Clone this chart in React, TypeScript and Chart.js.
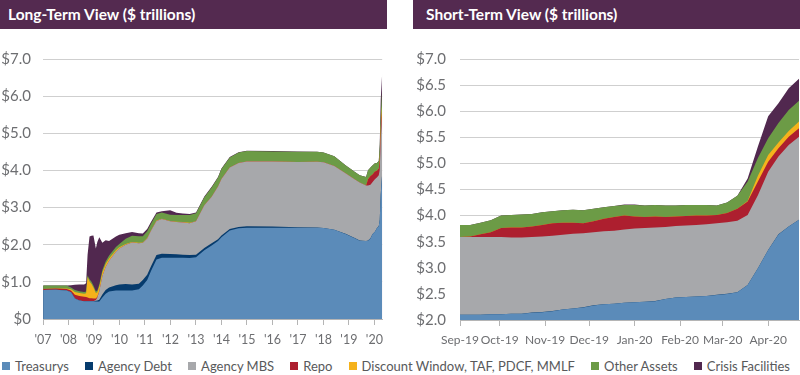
import React, { useEffect, useRef } from 'react';
import { Chart, registerables } from 'chart.js';
Chart.register(...registerables);

Chart.defaults.font.family = "Lato, 'Open Sans', sans-serif";

const SERIES = ['Treasurys', 'Agency Debt', 'Agency MBS', 'Repo', 'Discount Window, TAF, PDCF, MMLF', 'Other Assets', 'Crisis Facilities'];
const COLORS = ['#5b8bb9', '#063b6d', '#a7a8ab', '#ad1f2f', '#f5b21b', '#6c9b46', '#51284f'];

// ---------- Long-term view ($ trillions) ----------
const LT_DATES = [
  '2007-01-03', '2007-07-04', '2007-12-05', '2008-02-06', '2008-04-02', '2008-06-04', '2008-08-13', '2008-09-10',
  '2008-10-01', '2008-10-29', '2008-11-26', '2008-12-24', '2009-01-28', '2009-02-18', '2009-03-18', '2009-05-01',
  '2009-06-17', '2009-08-05', '2009-11-11', '2009-12-30', '2010-03-31', '2010-06-30', '2010-10-06', '2010-12-01',
  '2011-02-02', '2011-03-30', '2011-06-15', '2011-08-31', '2011-12-28', '2012-03-28', '2012-06-27', '2012-10-03',
  '2013-01-02', '2013-05-01', '2013-08-14', '2013-11-13', '2014-01-01', '2014-04-30', '2014-09-03', '2014-12-31',
  '2015-12-30', '2016-12-28', '2017-10-04', '2018-01-03', '2018-06-06', '2018-11-14', '2019-04-03', '2019-06-05',
  '2019-09-04', '2019-10-02', '2019-11-06', '2019-12-04', '2020-01-08', '2020-02-05', '2020-03-04', '2020-03-18',
  '2020-04-01', '2020-04-22',
];
const LT_TREASURYS = [
  0.78, 0.79, 0.77, 0.72, 0.55, 0.50, 0.48, 0.48,
  0.48, 0.48, 0.48, 0.48, 0.47, 0.47, 0.47, 0.58,
  0.68, 0.74, 0.77, 0.77, 0.77, 0.77, 0.80, 0.90,
  1.05, 1.30, 1.60, 1.65, 1.65, 1.65, 1.65, 1.64,
  1.66, 1.85, 1.98, 2.10, 2.20, 2.38, 2.44, 2.46,
  2.46, 2.46, 2.46, 2.45, 2.40, 2.29, 2.17, 2.11,
  2.10, 2.11, 2.17, 2.28, 2.35, 2.44, 2.50, 2.67,
  3.34, 3.92,
];
const LT_AGENCY_DEBT = [
  0, 0, 0, 0, 0, 0, 0, 0,
  0, 0, 0, 0, 0.02, 0.03, 0.05, 0.08,
  0.10, 0.11, 0.14, 0.16, 0.17, 0.16, 0.15, 0.15,
  0.14, 0.13, 0.12, 0.11, 0.10, 0.09, 0.08, 0.08,
  0.07, 0.06, 0.06, 0.05, 0.05, 0.04, 0.04, 0.04,
  0.03, 0.01, 0.002, 0.002, 0.002, 0.002, 0.002, 0.002,
  0.002, 0.002, 0.002, 0.002, 0.002, 0.002, 0.002, 0.002,
  0.002, 0.002,
];
const LT_AGENCY_MBS = [
  0, 0, 0, 0, 0, 0, 0, 0,
  0, 0, 0, 0, 0.02, 0.08, 0.23, 0.49,
  0.62, 0.72, 0.90, 0.97, 1.06, 1.13, 1.09, 1.00,
  0.98, 0.95, 0.92, 0.93, 0.88, 0.87, 0.87, 0.86,
  0.90, 1.15, 1.25, 1.42, 1.52, 1.66, 1.72, 1.74,
  1.75, 1.76, 1.77, 1.77, 1.72, 1.63, 1.58, 1.56,
  1.49, 1.48, 1.44, 1.40, 1.41, 1.37, 1.37, 1.34,
  1.50, 1.59,
];
const LT_REPO = [
  0.03, 0.03, 0.04, 0.05, 0.10, 0.12, 0.12, 0.11,
  0.10, 0.08, 0.08, 0.07, 0.04, 0.02, 0, 0,
  0, 0, 0, 0, 0, 0, 0, 0,
  0, 0, 0, 0, 0, 0, 0, 0,
  0, 0, 0, 0, 0, 0, 0, 0,
  0, 0, 0, 0, 0, 0, 0, 0,
  0, 0.17, 0.24, 0.21, 0.21, 0.18, 0.18, 0.26,
  0.19, 0.16,
];
const LT_DISCOUNT = [
  0, 0, 0.01, 0.03, 0.08, 0.08, 0.08, 0.10,
  0.55, 0.45, 0.38, 0.30, 0.15, 0.12, 0.12, 0.10,
  0.08, 0.06, 0.04, 0.03, 0.02, 0.01, 0.01, 0.01,
  0.01, 0.01, 0.01, 0.01, 0.01, 0.01, 0.01, 0.01,
  0, 0, 0, 0, 0, 0, 0, 0,
  0, 0, 0, 0, 0, 0, 0, 0,
  0, 0, 0, 0, 0, 0, 0, 0.01,
  0.13, 0.13,
];
const LT_OTHER = [
  0.09, 0.08, 0.08, 0.05, 0.05, 0.05, 0.05, 0.05,
  0.05, 0.06, 0.06, 0.05, 0.05, 0.05, 0.06, 0.07,
  0.07, 0.08, 0.09, 0.09, 0.14, 0.17, 0.18, 0.17,
  0.18, 0.18, 0.18, 0.17, 0.17, 0.18, 0.19, 0.21,
  0.22, 0.22, 0.25, 0.24, 0.27, 0.27, 0.28, 0.28,
  0.27, 0.27, 0.27, 0.26, 0.26, 0.22, 0.20, 0.20,
  0.23, 0.24, 0.23, 0.24, 0.22, 0.21, 0.20, 0.37,
  0.32, 0.40,
];
const LT_CRISIS = [
  0, 0, 0, 0.06, 0.14, 0.18, 0.20, 0.22,
  0.55, 1.15, 1.24, 1.35, 1.15, 1.30, 1.27, 0.73,
  0.57, 0.39, 0.28, 0.25, 0.15, 0.10, 0.08, 0.07,
  0.06, 0.05, 0.04, 0.03, 0.12, 0.06, 0.04, 0.03,
  0.02, 0.02, 0.02, 0.01, 0.01, 0.01, 0.01, 0.01,
  0.01, 0.01, 0, 0, 0, 0, 0, 0,
  0, 0, 0, 0, 0, 0, 0, 0.06,
  0.42, 0.42,
];
const LT_TICK_YEARS = [2007, 2008, 2009, 2010, 2011, 2012, 2013, 2014, 2015, 2016, 2017, 2018, 2019, 2020];
const LT_TICK_LABELS = ["'07", "'08", "'09", "'10", "'11", "'12", "'13", "'14", "'15", "'16", "'17", "'18", "'19", "'20"];
const LT_Y_TICKS = [0, 1, 2, 3, 4, 5, 6, 7];

// ---------- Short-term view ($ trillions) ----------
const ST_DATES = [
  '2019-09-04', '2019-09-11', '2019-09-18', '2019-09-25', '2019-10-02', '2019-10-09', '2019-10-16', '2019-10-23',
  '2019-10-30', '2019-11-06', '2019-11-13', '2019-11-20', '2019-11-27', '2019-12-04', '2019-12-11', '2019-12-18',
  '2019-12-25', '2020-01-01', '2020-01-08', '2020-01-15', '2020-01-22', '2020-01-29', '2020-02-05', '2020-02-12',
  '2020-02-19', '2020-02-26', '2020-03-04', '2020-03-11', '2020-03-18', '2020-03-25', '2020-04-01', '2020-04-08',
  '2020-04-15', '2020-04-22',
];
const ST_TREASURYS = [
  2.10, 2.10, 2.10, 2.11, 2.11, 2.12, 2.12, 2.14,
  2.15, 2.17, 2.20, 2.22, 2.24, 2.28, 2.30, 2.31,
  2.33, 2.34, 2.35, 2.36, 2.40, 2.43, 2.44, 2.45,
  2.46, 2.48, 2.50, 2.53, 2.67, 2.99, 3.34, 3.64,
  3.79, 3.92,
];
const ST_AGENCY_DEBT = [
  0.002, 0.002, 0.002, 0.002, 0.002, 0.002, 0.002, 0.002,
  0.002, 0.002, 0.002, 0.002, 0.002, 0.002, 0.002, 0.002,
  0.002, 0.002, 0.002, 0.002, 0.002, 0.002, 0.002, 0.002,
  0.002, 0.002, 0.002, 0.002, 0.002, 0.002, 0.002, 0.002,
  0.002, 0.002,
];
const ST_AGENCY_MBS = [
  1.49, 1.49, 1.49, 1.48, 1.48, 1.46, 1.46, 1.45,
  1.45, 1.44, 1.43, 1.43, 1.42, 1.40, 1.40, 1.40,
  1.40, 1.41, 1.41, 1.41, 1.38, 1.37, 1.37, 1.37,
  1.37, 1.37, 1.37, 1.37, 1.34, 1.40, 1.50, 1.49,
  1.56, 1.59,
];
const ST_REPO = [
  0, 0.01, 0.05, 0.09, 0.17, 0.19, 0.19, 0.20,
  0.22, 0.24, 0.23, 0.21, 0.19, 0.21, 0.24, 0.26,
  0.27, 0.23, 0.21, 0.21, 0.19, 0.18, 0.18, 0.18,
  0.17, 0.16, 0.18, 0.23, 0.26, 0.26, 0.19, 0.16,
  0.16, 0.16,
];
const ST_DISCOUNT = [
  0, 0, 0, 0, 0, 0, 0, 0,
  0, 0, 0, 0, 0, 0, 0, 0,
  0, 0, 0, 0, 0, 0, 0, 0,
  0, 0, 0, 0, 0.01, 0.11, 0.13, 0.11,
  0.11, 0.13,
];
const ST_OTHER = [
  0.23, 0.22, 0.22, 0.23, 0.24, 0.24, 0.25, 0.24,
  0.24, 0.23, 0.24, 0.25, 0.25, 0.24, 0.22, 0.21,
  0.20, 0.22, 0.22, 0.22, 0.22, 0.21, 0.21, 0.20,
  0.20, 0.18, 0.20, 0.25, 0.37, 0.34, 0.32, 0.37,
  0.40, 0.40,
];
const ST_CRISIS = [
  0, 0, 0, 0, 0, 0, 0, 0,
  0, 0, 0, 0, 0, 0, 0, 0,
  0.01, 0.01, 0, 0, 0, 0, 0, 0,
  0, 0, 0, 0, 0.06, 0.22, 0.42, 0.38,
  0.42, 0.42,
];
const ST_TICK_DATES = ['2019-09-04', '2019-10-01', '2019-11-01', '2019-12-01', '2020-01-01', '2020-02-01', '2020-03-01', '2020-04-01'];
const ST_TICK_LABELS = ['Sep-19', 'Oct-19', 'Nov-19', 'Dec-19', 'Jan-20', 'Feb-20', 'Mar-20', 'Apr-20'];
const ST_Y_TICKS = [2.0, 2.5, 3.0, 3.5, 4.0, 4.5, 5.0, 5.5, 6.0, 6.5, 7.0];

// ---------- helpers ----------
function toUTC(s: string) {
  return new Date(s + 'T00:00:00Z').getTime();
}
function decYear(s: string) {
  const t = toUTC(s);
  const y = new Date(t).getUTCFullYear();
  const a = Date.UTC(y, 0, 1);
  const b = Date.UTC(y + 1, 0, 1);
  return y + (t - a) / (b - a);
}
const ST_ORIGIN = Date.UTC(2019, 8, 1);
function dayNum(s: string) {
  return (toUTC(s) - ST_ORIGIN) / 86400000;
}
function cumulative(series: number[][]) {
  const out: number[][] = [];
  let run = series[0].map(() => 0);
  series.forEach((s) => {
    run = run.map((v, i) => v + s[i]);
    out.push(run.slice());
  });
  return out;
}

const AXIS_GRAY = '#b5b5b5';
const LABEL_GRAY = '#6d6e71';

interface Cfg {
  xs: number[];
  series: number[][];
  xMin: number;
  xMax: number;
  xTicks: number[];
  xLabels: string[];
  yMin: number;
  yMax: number;
  yTicks: number[];
  yLabel: (v: number) => string;
  yWidth: number;
  xHeight: number;
  padRight: number;
  yPad: number;
  xFont: number;
}

function buildConfig(c: Cfg): any {
  const cum = cumulative(c.series);
  return {
    type: 'line',
    data: {
      datasets: cum.map((vals, k) => ({
        label: SERIES[k],
        data: vals.map((v, i) => ({ x: c.xs[i], y: v })),
        backgroundColor: COLORS[k],
        borderColor: COLORS[k],
        borderWidth: 0,
        pointRadius: 0,
        pointHoverRadius: 0,
        fill: 'start',
        tension: 0,
      })),
    },
    options: {
      animation: false,
      responsive: false,
      maintainAspectRatio: false,
      events: [],
      layout: { padding: { top: 29, right: c.padRight, left: 0, bottom: 0 } },
      plugins: { legend: { display: false }, tooltip: { enabled: false } },
      scales: {
        x: {
          type: 'linear',
          min: c.xMin,
          max: c.xMax,
          afterBuildTicks: (s: any) => {
            s.ticks = c.xTicks.map((v) => ({ value: v }));
          },
          afterFit: (s: any) => {
            s.height = c.xHeight;
          },
          grid: { drawOnChartArea: false, drawTicks: true, tickLength: 6, color: AXIS_GRAY },
          border: { display: true, color: AXIS_GRAY },
          ticks: {
            autoSkip: false,
            maxRotation: 0,
            padding: 7,
            color: LABEL_GRAY,
            font: { size: c.xFont },
            callback: (_v: any, i: number) => c.xLabels[i],
          },
        },
        y: {
          min: c.yMin,
          max: c.yMax,
          afterBuildTicks: (s: any) => {
            s.ticks = c.yTicks.map((v) => ({ value: v }));
          },
          afterFit: (s: any) => {
            s.width = c.yWidth;
          },
          grid: { color: '#cfcfcf', drawTicks: false, lineWidth: 1 },
          border: { display: false },
          ticks: {
            autoSkip: false,
            padding: c.yPad,
            color: LABEL_GRAY,
            font: { size: 15 },
            callback: (v: any) => c.yLabel(Number(v)),
          },
        },
      },
    },
  };
}

function ChartCanvas({ make, width, height }: { make: () => any; width: number; height: number }) {
  const ref = useRef<HTMLCanvasElement | null>(null);
  useEffect(() => {
    if (!ref.current) return;
    const chart = new Chart(ref.current, make());
    return () => chart.destroy();
  }, []);
  return <canvas ref={ref} width={width} height={height} style={{ width, height, display: 'block' }} />;
}

const makeLong = () =>
  buildConfig({
    xs: LT_DATES.map(decYear),
    series: [LT_TREASURYS, LT_AGENCY_DEBT, LT_AGENCY_MBS, LT_REPO, LT_DISCOUNT, LT_OTHER, LT_CRISIS],
    xMin: LT_TICK_YEARS[0],
    xMax: decYear(LT_DATES[LT_DATES.length - 1]),
    xTicks: LT_TICK_YEARS,
    xLabels: LT_TICK_LABELS,
    yMin: LT_Y_TICKS[0],
    yMax: LT_Y_TICKS[LT_Y_TICKS.length - 1],
    yTicks: LT_Y_TICKS,
    yLabel: (v) => (v === 0 ? '$0' : '$' + v.toFixed(1)),
    yWidth: 43,
    xHeight: 31,
    padRight: 4,
    yPad: 12,
    xFont: 12.5,
  });

const makeShort = () =>
  buildConfig({
    xs: ST_DATES.map(dayNum),
    series: [ST_TREASURYS, ST_AGENCY_DEBT, ST_AGENCY_MBS, ST_REPO, ST_DISCOUNT, ST_OTHER, ST_CRISIS],
    xMin: dayNum(ST_DATES[0]),
    xMax: dayNum(ST_DATES[ST_DATES.length - 1]),
    xTicks: ST_TICK_DATES.map(dayNum),
    xLabels: ST_TICK_LABELS,
    yMin: ST_Y_TICKS[0],
    yMax: ST_Y_TICKS[ST_Y_TICKS.length - 1],
    yTicks: ST_Y_TICKS,
    yLabel: (v) => '$' + v.toFixed(1),
    yWidth: 47,
    xHeight: 30,
    padRight: 1,
    yPad: 14,
    xFont: 12,
  });

const HEADER_BG = '#542a50';

function Header({ left, width, text, pad }: { left: number; width: number; text: string; pad: number }) {
  return (
    <div
      style={{
        position: 'absolute',
        left,
        top: 0,
        width,
        height: 29,
        background: HEADER_BG,
        color: '#fff',
        fontFamily: 'Lato, sans-serif',
        fontWeight: 700,
        fontSize: 15.5,
        lineHeight: '29px',
        paddingLeft: pad,
        boxSizing: 'border-box',
        whiteSpace: 'nowrap',
      }}
    >
      {text}
    </div>
  );
}

export default function App() {
  useEffect(() => {
    document.body.style.margin = '0';
  }, []);
  return (
    <div style={{ position: 'absolute', left: 0, top: 0, width: 800, height: 375, background: '#fff', overflow: 'hidden' }}>
      <Header left={0} width={387} text="Long-Term View ($ trillions)" pad={8} />
      <Header left={413} width={387} text="Short-Term View ($ trillions)" pad={13} />
      <div style={{ position: 'absolute', left: 0, top: 30 }}>
        <ChartCanvas make={makeLong} width={390} height={320} />
      </div>
      <div style={{ position: 'absolute', left: 413, top: 30 }}>
        <ChartCanvas make={makeShort} width={387} height={320} />
      </div>
      <div
        style={{
          position: 'absolute',
          left: 2,
          top: 356,
          width: 788,
          height: 20,
          display: 'flex',
          justifyContent: 'space-between',
          alignItems: 'center',
          fontFamily: 'Lato, sans-serif',
          fontSize: 13,
          color: '#58595b',
          whiteSpace: 'nowrap',
        }}
      >
        {SERIES.map((name, k) => (
          <div key={name} style={{ display: 'flex', alignItems: 'center' }}>
            <span style={{ display: 'inline-block', width: 8, height: 8, background: COLORS[k], marginRight: 5 }} />
            <span>{name}</span>
          </div>
        ))}
      </div>
    </div>
  );
}
